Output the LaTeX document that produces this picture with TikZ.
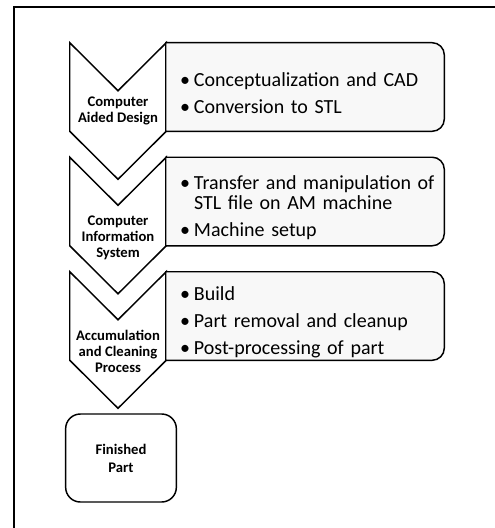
\documentclass[tikz,border=0pt]{standalone}
\usepackage{fontspec}
\setmainfont{Carlito}
\usetikzlibrary{backgrounds,calc,positioning}
\definecolor{boxfill}{RGB}{248,248,248}
\newcommand{\bul}[1]{\par\hangindent=10.5pt\hangafter=1\noindent\makebox[10.5pt][l]{\textbullet}#1}

\begin{document}
\begin{tikzpicture}[x=0.75pt, y=-0.75pt,
        outline/.style = {line width=1.1pt, line join=miter},
        chev/.style = {minimum width=72pt, minimum height=66pt, inner sep=0pt},
   chevlabel/.style = {font=\fontsize{11}{12}\selectfont\bfseries, align=center, inner sep=0pt},
     stepbox/.style = {minimum width=208.5pt, minimum height=66pt, text width=187.5pt,
                       inner xsep=10.5pt, inner ysep=0pt, align=left,
                       font=\fontsize{15}{15}\selectfont,
                       execute at begin node=\setlength{\parskip}{5.2pt}},
      finbox/.style = {outline, draw, rounded corners=11pt, minimum width=83pt, minimum height=66pt,
                       align=center, font=\fontsize{11}{13.5}\selectfont\bfseries},
                    ]
    \useasboundingbox (0,0) rectangle (495,528);
    \draw[line width=1.5pt] (14,528) -- (14,7) -- (495,7);
    % chevrons
    \node[chev] (c1) at (118,87) {};
    \node[chev] (c2) at (118,201.5) {};
    \node[chev] (c3) at (118,316) {};
    \node[chevlabel] (l1) at (118,111) {Computer\\Aided Design};
    \node[chevlabel] (l2) at (118,238) {Computer\\Information\\System};
    \node[chevlabel] (l3) at (118,351) {Accumulation\\and Cleaning\\Process};
    % boxes
    \node[stepbox] (b1) at (305,87) {\bul{Conceptualization and CAD}\bul{Conversion to STL}};
    \node[stepbox] (b2) at (305,201.5) {\bul{\mbox{Transfer and manipulation of}\break STL file on AM machine}\bul{Machine setup}};
    \node[stepbox] (b3) at (305,316) {\bul{Build}\bul{Part removal and cleanup}\bul{Post-processing of part}};
    \node[finbox] (fin) at (121,458) {Finished\\Part};
    %
    \begin{scope}[on background layer]
    \foreach \i in {1,2,3}
    {
      \draw[outline, fill=white] (c\i.north west) -- ([yshift=-36pt]c\i.north) -- (c\i.north east)
          -- (c\i.south east) -- ([yshift=-36pt]c\i.south) -- (c\i.south west) -- cycle;
      \draw[outline, fill=boxfill] (b\i.north west) -- ([xshift=-9pt]b\i.north east)
          arc[start angle=90, end angle=0, radius=9pt] -- ([yshift=9pt]b\i.south east)
          arc[start angle=0, end angle=-90, radius=9pt] -- (b\i.south west) -- cycle;
    }
    \end{scope}
\end{tikzpicture}
\end{document}
